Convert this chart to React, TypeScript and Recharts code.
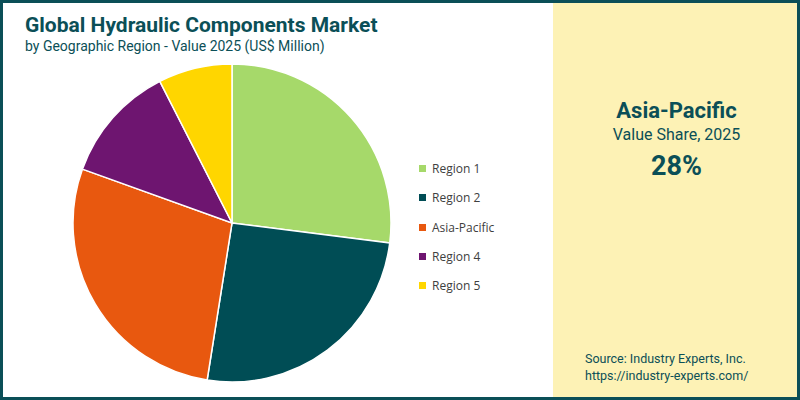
import { Cell, Legend, Pie, PieChart } from "recharts";

const regions = ["Region 1", "Region 2", "Asia-Pacific", "Region 4", "Region 5"];
const shares = [27, 25.5, 28, 12, 7.5];
const colors = ["#a6d96a", "#004d55", "#e8580f", "#6e1570", "#ffd600"];

const data = regions.map((name, i) => ({ name, value: shares[i] }));

const teal = "#0b4f57";

function LegendList() {
  return (
    <div style={{ fontFamily: "'Open Sans', sans-serif", fontSize: 12, color: "#404040" }}>
      {regions.map((name, i) => (
        <div key={name} style={{ display: "flex", alignItems: "center", height: 29.3 }}>
          <span style={{ width: 7, height: 7, background: colors[i], marginRight: 6 }} />
          <span>{name}</span>
        </div>
      ))}
    </div>
  );
}

export default function App() {
  return (
    <div
      style={{
        position: "absolute",
        top: 0,
        left: 0,
        width: 800,
        height: 400,
        boxSizing: "border-box",
        border: `3px solid ${teal}`,
        background: "#fff",
        fontFamily: "Roboto, sans-serif",
        overflow: "hidden",
      }}
    >
      <div style={{ position: "absolute", left: 22, top: 9, color: teal, fontSize: 21, fontWeight: 700, lineHeight: "26px" }}>
        Global Hydraulic Components Market
      </div>
      <div style={{ position: "absolute", left: 22, top: 34, color: teal, fontSize: 14, lineHeight: "18px" }}>
        by Geographic Region - Value 2025 (US$ Million)
      </div>
      <div style={{ position: "absolute", left: -3, top: -3 }}>
        <PieChart width={553} height={400}>
          <Pie
            data={data}
            dataKey="value"
            nameKey="name"
            cx={227}
            cy={218}
            outerRadius={159}
            startAngle={90}
            endAngle={-270}
            stroke="#fff"
            strokeWidth={1.5}
            isAnimationActive={false}
          >
            {data.map((d, i) => (
              <Cell key={d.name} fill={colors[i]} />
            ))}
          </Pie>
          <Legend content={() => <LegendList />} wrapperStyle={{ position: "absolute", left: 419, top: 154, width: 120 }} />
        </PieChart>
      </div>
      <div
        style={{
          position: "absolute",
          left: 550,
          top: 0,
          width: 247,
          height: 394,
          background: "#fdf2b5",
          color: teal,
        }}
      >
        <div style={{ position: "absolute", left: 0, width: "100%", textAlign: "center", top: 95, fontSize: 22, fontWeight: 700 }}>
          Asia-Pacific
        </div>
        <div style={{ position: "absolute", left: 0, width: "100%", textAlign: "center", top: 122, fontSize: 16 }}>
          Value Share, 2025
        </div>
        <div style={{ position: "absolute", left: 0, width: "100%", textAlign: "center", top: 147, fontSize: 27, fontWeight: 700 }}>
          28%
        </div>
        <div style={{ position: "absolute", left: 32, top: 347, fontSize: 12.5, lineHeight: "17px" }}>
          Source: Industry Experts, Inc.
          <br />
          https://industry-experts.com/
        </div>
      </div>
    </div>
  );
}
